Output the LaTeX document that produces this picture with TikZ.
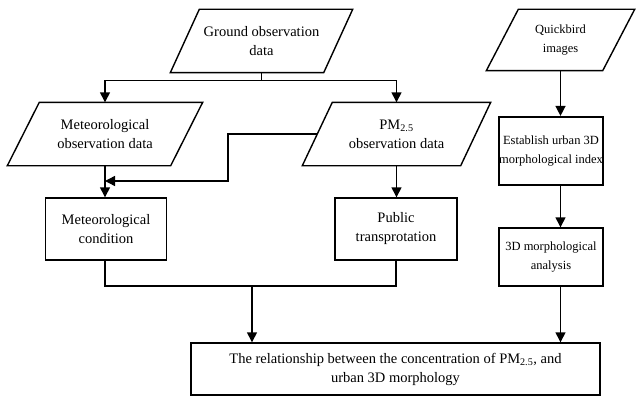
\documentclass[tikz,border=0pt]{standalone}
\usepackage{fontspec}
\setmainfont{Liberation Serif}
\usetikzlibrary{arrows.meta,calc}
\newcommand\paral[2]{\draw[line width=1.4pt] ($(#1.north west)+(#2,0)$) -- (#1.north east) -- ($(#1.south east)-(#2,0)$) -- (#1.south west) -- cycle;}
\begin{document}
\begin{tikzpicture}[x=1pt,y=-1pt,line width=1.4pt,
  arr/.style={-{Triangle[length=10pt,width=10pt]}},
  big/.style={font=\fontsize{14.5}{19}\selectfont},
  small/.style={font=\fontsize{12.5}{19}\selectfont},
  para/.style={align=center,inner sep=0pt},
  rbox/.style={draw,rectangle,align=center,inner sep=0pt,line width=1.4pt}]
\useasboundingbox (0,0) rectangle (637,404);
% parallelograms
\node[para,big,minimum width=181,minimum height=62] (g) at (261.5,41) {Ground observation\\data};
\paral{g}{29}
\node[para,big,minimum width=194,minimum height=62] (metobs) at (105,134) {Meteorological\\observation data};
\paral{metobs}{32}
\node[para,big,minimum width=187,minimum height=62] (pm) at (396.5,134) {PM\textsubscript{2.5}\\observation data};
\paral{pm}{30}
\node[para,small,minimum width=147,minimum height=60] (quick) at (560.5,40) {Quickbird\\images};
\paral{quick}{32}
% boxes
\node[rbox,big,minimum width=121,minimum height=62] (metcond) at (106,229) {Meteorological\\condition};
\node[rbox,big,minimum width=122,minimum height=62] (pubtr) at (396,229) {Public\\transprotation};
\node[rbox,small,minimum width=104,minimum height=68,line width=2.2pt] (est) at (551,151) {Establish urban 3D\\morphological index};
\node[rbox,small,minimum width=104,minimum height=58] (ana) at (551,257) {3D morphological\\analysis};
\node[rbox,big,minimum width=409,minimum height=52] (res) at (395.5,369) {The relationship between the concentration of PM\textsubscript{2.5}, and\\urban 3D morphology};
% connectors
\coordinate (gj) at ($(g.south)+(0,8)$);
\draw (g.south) -- (gj);
\draw[arr] (gj) -| (metobs.north);
\draw[arr] (gj) -| (pm.north);
\draw[arr] (metobs.south) -- (metobs.south |- metcond.north);
\draw[arr] (pm.south) -- (pm.south |- pubtr.north);
\coordinate (pmtl) at ($(pm.north west)+(30,0)$);
\coordinate (fb) at ($(pmtl)!0.5!(pm.south west)$);
\coordinate (fbc) at (228,181);
\draw[arr] (fb) -| (fbc) -- (metobs.south |- fbc);
\coordinate (mj) at (252,286);
\draw (metobs.south |- metcond.south) |- (mj -| pubtr.south) -- (pubtr.south);
\draw[arr] (mj) -- (mj |- res.north);
\draw[arr] (quick.south) -- (quick.south |- est.north);
\draw[arr] (quick.south |- est.south) -- (quick.south |- ana.north);
\draw[arr] (quick.south |- ana.south) -- (quick.south |- res.north);
\end{tikzpicture}
\end{document}
